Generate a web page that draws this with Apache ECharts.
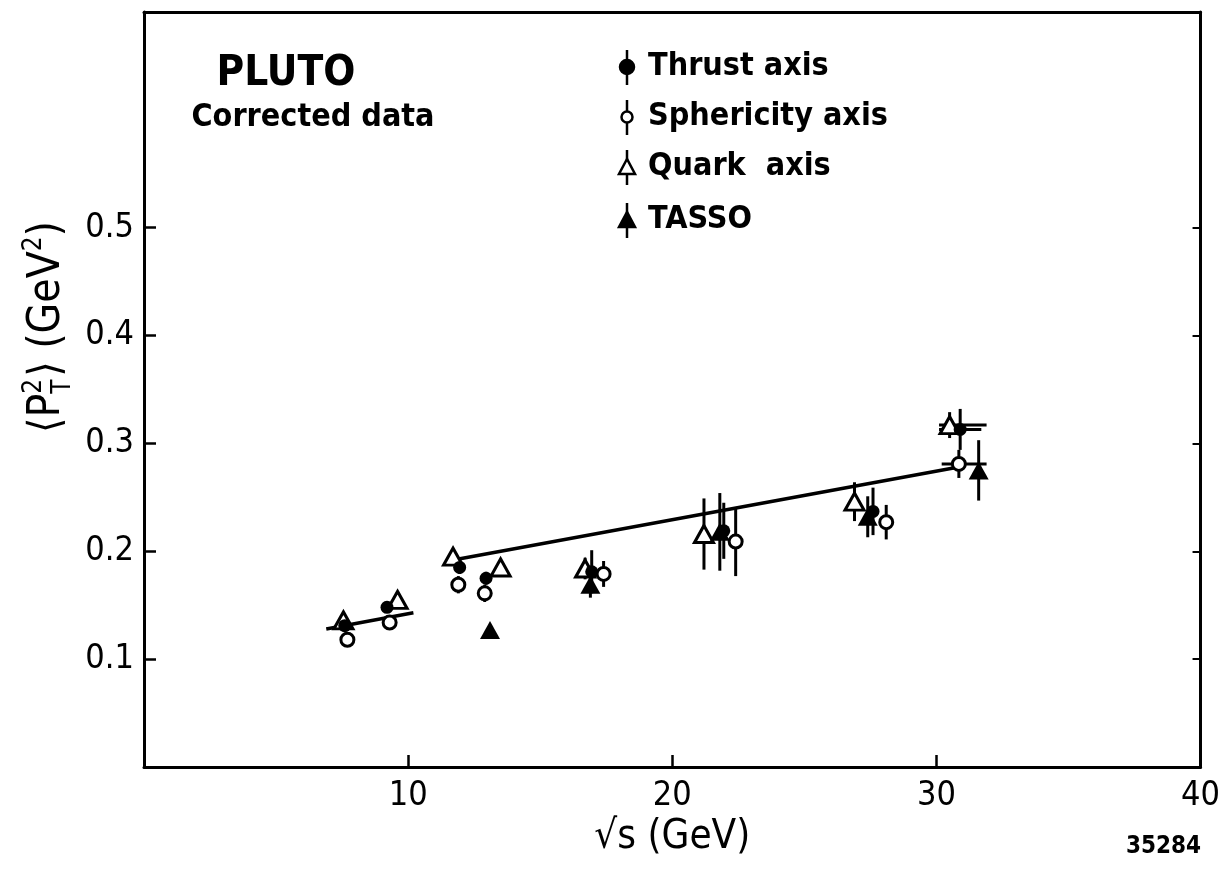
<!DOCTYPE html>
<html>
<head>
<meta charset="utf-8">
<script src="https://cdn.jsdelivr.net/npm/echarts@6/dist/echarts.min.js"></script>
<style>
  html, body { margin: 0; padding: 0; background: #fff; }
  #chart { width: 1223px; height: 871px; }
</style>
</head>
<body>
<div id="chart"></div>
<script>
// sqrt(s) in GeV, <pT^2> in GeV^2, errors
const thrustX = [7.6, 9.2, 11.95, 12.95, 16.95, 21.95, 27.6, 30.9]
const thrustY = [0.131, 0.148, 0.185, 0.175, 0.181, 0.219, 0.237, 0.313]
const thrustErr = [0, 0, 0.006, 0.006, 0.02, 0.026, 0.022, 0.019]
const thrustXErrLo = [0, 0, 0, 0, 0, 0, 0, 0.8]
const thrustXErrHi = [0, 0, 0, 0, 0, 0, 0, 0.8]

const spherX = [7.7, 9.3, 11.9, 12.9, 17.4, 22.4, 28.1, 30.85]
const spherY = [0.118, 0.134, 0.169, 0.161, 0.179, 0.209, 0.227, 0.281]
const spherErr = [0, 0, 0.008, 0.008, 0.012, 0.032, 0.016, 0.013]
const spherXErrLo = [0, 0, 0, 0, 0, 0, 0, 0.65]
const spherXErrHi = [0, 0, 0, 0, 0, 0, 0, 1.05]

const quarkX = [7.55, 9.6, 11.7, 13.5, 16.7, 21.2, 26.9, 30.5]
const quarkY = [0.136, 0.155, 0.195, 0.185, 0.184, 0.216, 0.246, 0.317]
const quarkErr = [0, 0, 0, 0, 0.01, 0.033, 0.018, 0.012]
const quarkXErrLo = [0, 0, 0, 0, 0, 0, 0, 0.4]
const quarkXErrHi = [0, 0, 0, 0, 0, 0, 0, 1.4]

const tassoX = [13.1, 16.9, 21.8, 27.4, 31.6]
const tassoY = [0.127, 0.169, 0.218, 0.232, 0.275]
const tassoErr = [0, 0.012, 0.036, 0.019, 0.028]

// straight-line fits drawn on the figure
const fitLowX = [6.9, 10.2]
const fitLowY = [0.128, 0.143]
const fitHighX = [11.5, 30.8]
const fitHighY = [0.191, 0.278]

const xTicks = [10, 20, 30, 40]
const yTicks = [0.1, 0.2, 0.3, 0.4, 0.5]

const FONT = '"DejaVu Sans Condensed", "DejaVu Sans", sans-serif'

function zip (xs, ys) {
  return xs.map((x, i) => [x, ys[i]])
}

function errData (xs, ys, errs, lo, hi) {
  return xs.map((x, i) => [x, ys[i], errs[i], lo ? lo[i] : 0, hi ? hi[i] : 0])
}

function errSeries (data) {
  return {
    type: 'custom',
    data: data,
    encode: { x: 0, y: 1 },
    z: 2,
    silent: true,
    renderItem: function (params, api) {
      const x = api.value(0), y = api.value(1), e = api.value(2)
      const xl = api.value(3), xh = api.value(4)
      const children = []
      if (e > 0) {
        const a = api.coord([x, y + e]), b = api.coord([x, y - e])
        children.push({ type: 'line', shape: { x1: a[0], y1: a[1], x2: b[0], y2: b[1] }, style: { stroke: '#000', lineWidth: 3 } })
      }
      if (xl > 0 || xh > 0) {
        const a = api.coord([x - xl, y]), b = api.coord([x + xh, y])
        children.push({ type: 'line', shape: { x1: a[0], y1: a[1], x2: b[0], y2: b[1] }, style: { stroke: '#000', lineWidth: 3 } })
      }
      return { type: 'group', children: children }
    }
  }
}

function fitSeries (xs, ys) {
  return {
    type: 'line', data: zip(xs, ys), symbol: 'none', z: 1, silent: true,
    lineStyle: { color: '#000', width: 3.5 }
  }
}

const openStyle = { color: '#fff', borderColor: '#000', borderWidth: 3, opacity: 1 }
const fillStyle = { color: '#000', opacity: 1 }

// y axis title, built piece by piece so the 2 and T can stack
const measure = document.createElement('canvas').getContext('2d')
function textWidth (s, size) {
  measure.font = size + 'px "DejaVu Sans Condensed"'
  return measure.measureText(s).width
}
const yBig = 44, ySmall = 26
const yParts = [
  { t: '⟨P', size: yBig, dy: 0 },
  { t: '2', size: ySmall, dy: -14, stackT: true },
  { t: '⟩ (GeV', size: yBig, dy: 0 },
  { t: '2', size: ySmall, dy: -14 },
  { t: ')', size: yBig, dy: 0 }
]
let yTotal = 0
yParts.forEach(p => { p.w = textWidth(p.t, p.size) + (p.stackT ? 2 : 0); yTotal += p.w })
const yTitleChildren = []
let cx = -yTotal / 2
yParts.forEach(p => {
  yTitleChildren.push({ type: 'text', x: cx, y: p.dy, style: { text: p.t, font: p.size + 'px ' + FONT, fill: '#000', textVerticalAlign: 'middle' } })
  if (p.stackT) {
    yTitleChildren.push({ type: 'text', x: cx, y: 15, style: { text: 'T', font: ySmall + 'px ' + FONT, fill: '#000', textVerticalAlign: 'middle' } })
  }
  cx += p.w
})

const legendItems = [
  { name: 'Thrust axis', y: 67, shape: 'circle', fill: '#000' },
  { name: 'Sphericity axis', y: 117, shape: 'circle', fill: '#fff' },
  { name: 'Quark  axis', y: 167, shape: 'triangle', fill: '#fff' },
  { name: 'TASSO', y: 220, shape: 'triangle', fill: '#000' }
]

const legendGraphics = []
legendItems.forEach(it => {
  legendGraphics.push({ type: 'line', shape: { x1: 627, y1: it.y - 17, x2: 627, y2: it.y + 18 }, style: { stroke: '#000', lineWidth: 2.5 } })
  if (it.shape === 'circle') {
    legendGraphics.push({ type: 'circle', shape: { cx: 627, cy: it.y, r: it.fill === '#000' ? 7 : 5.5 }, style: { fill: it.fill, stroke: '#000', lineWidth: 2.5 } })
  } else {
    legendGraphics.push({ type: 'polygon', shape: { points: [[627, it.y - 8], [619, it.y + 7], [635, it.y + 7]] }, style: { fill: it.fill, stroke: '#000', lineWidth: 2.5 } })
  }
  legendGraphics.push({ type: 'text', x: 648, y: it.y, style: { text: it.name, font: 'bold 32px ' + FONT, fill: '#000', textVerticalAlign: 'middle' } })
})

const chart = echarts.init(document.getElementById('chart'))

chart.setOption({
  backgroundColor: '#fff',
  animation: false,
  grid: { left: 144, right: 20, top: 12, bottom: 104 },
  xAxis: [{
    type: 'value', min: 0, max: 40, interval: 10,
    name: '√s (GeV)', nameLocation: 'middle', nameGap: 42,
    nameTextStyle: { fontFamily: FONT, fontSize: 40, color: '#000' },
    axisLine: { lineStyle: { color: '#000', width: 3 } },
    axisTick: { inside: true, length: 12, customValues: xTicks, lineStyle: { color: '#000', width: 2.5 } },
    axisLabel: { margin: 12, fontFamily: FONT, fontSize: 34, color: '#000', customValues: xTicks },
    splitLine: { show: false }
  }, {
    type: 'value', min: 0, max: 40, interval: 10, position: 'top',
    axisLine: { show: true, onZero: false, lineStyle: { color: '#000', width: 3 } },
    axisTick: { show: false }, axisLabel: { show: false }, splitLine: { show: false }
  }],
  yAxis: [{
    type: 'value', min: 0, max: 0.7, interval: 0.1,
    axisLine: { show: true, lineStyle: { color: '#000', width: 3 } },
    axisTick: { show: true, inside: true, length: 12, customValues: yTicks, lineStyle: { color: '#000', width: 2.5 } },
    axisLabel: {
      margin: 10, fontFamily: FONT, fontSize: 34, color: '#000', customValues: yTicks,
      formatter: v => v.toFixed(1)
    },
    splitLine: { show: false }
  }, {
    type: 'value', min: 0, max: 0.7, interval: 0.1, position: 'right',
    axisLine: { show: true, onZero: false, lineStyle: { color: '#000', width: 3 } },
    axisTick: { show: true, inside: true, length: 8, customValues: yTicks, lineStyle: { color: '#000', width: 2 } },
    axisLabel: { show: false }, splitLine: { show: false }
  }],
  graphic: [
    { type: 'text', x: 286, y: 74, style: { text: 'PLUTO', font: 'bold 42px ' + FONT, fill: '#000', textAlign: 'center', textVerticalAlign: 'middle' } },
    { type: 'text', x: 313, y: 118, style: { text: 'Corrected data', font: 'bold 32px ' + FONT, fill: '#000', textAlign: 'center', textVerticalAlign: 'middle' } },
    { type: 'group', x: 48, y: 327, rotation: Math.PI / 2, children: yTitleChildren },
    { type: 'text', right: 22, bottom: 12, style: { text: '35284', font: 'bold 24px ' + FONT, fill: '#000' } }
  ].concat(legendGraphics),
  series: [
    fitSeries(fitLowX, fitLowY),
    fitSeries(fitHighX, fitHighY),
    errSeries(errData(thrustX, thrustY, thrustErr, thrustXErrLo, thrustXErrHi)),
    errSeries(errData(spherX, spherY, spherErr, spherXErrLo, spherXErrHi)),
    errSeries(errData(quarkX, quarkY, quarkErr, quarkXErrLo, quarkXErrHi)),
    errSeries(errData(tassoX, tassoY, tassoErr)),
    { name: 'Sphericity axis', type: 'scatter', data: zip(spherX, spherY), symbol: 'circle', symbolSize: 13, itemStyle: openStyle, z: 3 },
    { name: 'Quark axis', type: 'scatter', data: zip(quarkX, quarkY), symbol: 'triangle', symbolSize: [19, 17], itemStyle: openStyle, z: 3 },
    { name: 'Thrust axis', type: 'scatter', data: zip(thrustX, thrustY), symbol: 'circle', symbolSize: 13, itemStyle: fillStyle, z: 4 },
    { name: 'TASSO', type: 'scatter', data: zip(tassoX, tassoY), symbol: 'triangle', symbolSize: [20, 18], itemStyle: fillStyle, z: 4 }
  ]
})
</script>
</body>
</html>
